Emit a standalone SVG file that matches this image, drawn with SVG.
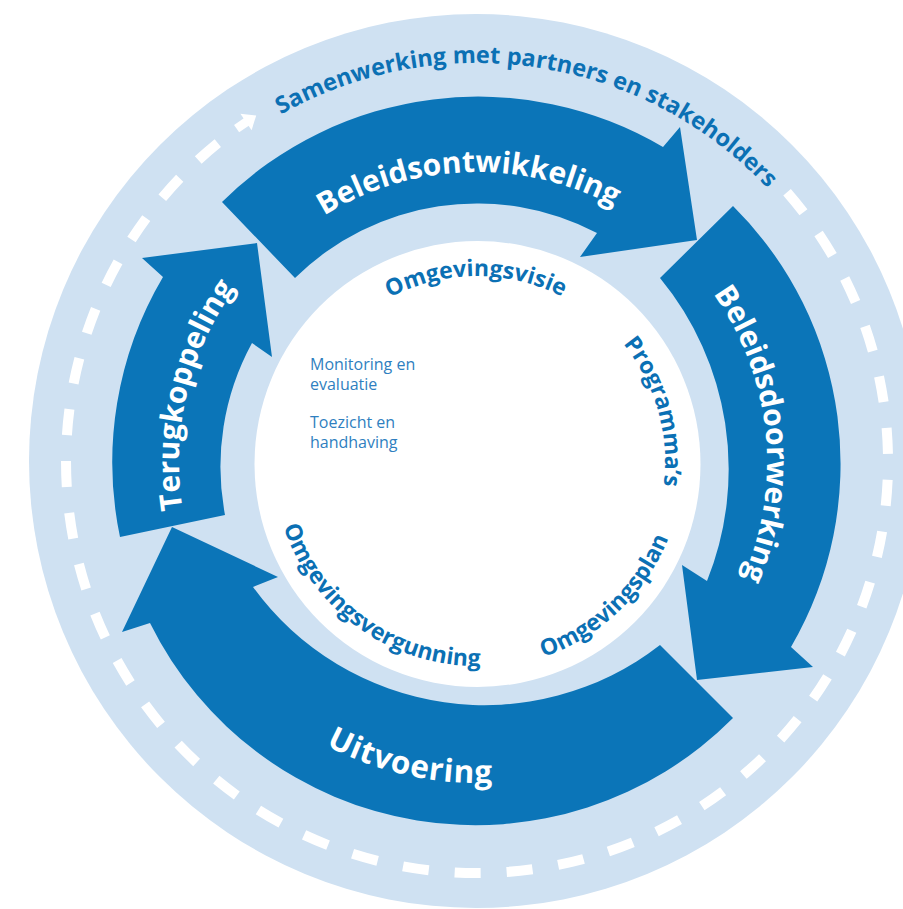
<svg xmlns="http://www.w3.org/2000/svg" width="903" height="909" viewBox="0 0 903 909">
<style>
.ring{fill:#cfe1f2}
.arrow{fill:#0b75b8}
.lbl{font-family:"Open Sans","Liberation Sans",sans-serif;font-weight:700;fill:#ffffff;font-size:30px}
.sub{font-family:"Open Sans","Liberation Sans",sans-serif;font-weight:700;fill:#0b70b4;font-size:23px}
.sam{font-family:"Open Sans","Liberation Sans",sans-serif;font-weight:700;fill:#0b70b4;font-size:23.5px}
.note{font-family:"Open Sans","Liberation Sans",sans-serif;font-weight:400;fill:#2f7fc0;font-size:16px}
.dash{fill:none;stroke:#ffffff;stroke-width:10;stroke-dasharray:26 26}
</style>
<defs>
<path id="pSam" d="M 78,462 A 399 399 0 0 1 876,462"/>
<path id="pTop" d="M 187,462 A 290 290 0 0 1 767,462"/>
<path id="pRight" d="M 477,172 A 290 290 0 0 1 477,752"/>
<path id="pLeft" d="M 477,760 A 298 298 0 0 1 477,164"/>
<path id="pBot" d="M 156,462 A 321 321 0 0 0 798,462"/>
<path id="pVisie" d="M 291,462 A 186 186 0 0 1 663,462"/>
<path id="pProg" d="M 477,274 A 188 188 0 0 1 477,650"/>
<path id="pPlan" d="M 271,462 A 206 206 0 0 0 683,462"/>
<path id="pVerg" d="M 273,462 A 204 204 0 0 0 681,462"/>
</defs>
<g id="background">
<circle class="ring" cx="476" cy="461" r="447"/>
<circle cx="477.5" cy="464" r="223" fill="#ffffff"/>
</g>
<g id="samenwerking">
<path class="dash" d="M 217.8,143.1 A 411 411 0 1 0 785.3,190.2"/>
<line x1="236.6" y1="128.6" x2="247" y2="121.5" stroke="#ffffff" stroke-width="9"/>
<polygon points="256.2,115.4 240.4,113.8 251.6,130.3" fill="#ffffff"/>
<text class="sam"><textPath href="#pSam" startOffset="54.8%" text-anchor="middle">Samenwerking met partners en stakeholders</textPath></text>
</g>
<g id="connectors">
<path id="arrow-beleidsontwikkeling" class="arrow" d="M 222,202 A 364 364 0 0 1 663,147 L 680,127 L 697,240 L 580,257 L 597,233 A 259 259 0 0 0 295,278 Z"/>
<path id="arrow-beleidsdoorwerking" class="arrow" d="M 733,206 A 363 363 0 0 1 791,647 L 813,667 L 697,680 L 682,565 L 707,581 A 300 300 0 0 0 660,278 Z"/>
<path id="arrow-uitvoering" class="arrow" d="M 733,718 A 363 363 0 0 1 150,623 L 122,632 L 172,527 L 278,577 L 253,587 A 286 286 0 0 0 660,645 Z"/>
<path id="arrow-terugkoppeling" class="arrow" d="M 120,537 A 364 364 0 0 1 163,277 L 142,258 L 257,243 L 272,357 L 252,343 A 258 258 0 0 0 225,515 Z"/>
</g>
<g id="node-beleidsontwikkeling">
<text class="lbl"><textPath href="#pTop" startOffset="49%" text-anchor="middle">Beleidsontwikkeling</textPath></text>
</g>
<g id="node-beleidsdoorwerking">
<text class="lbl"><textPath href="#pRight" startOffset="46.7%" text-anchor="middle">Beleidsdoorwerking</textPath></text>
</g>
<g id="node-uitvoering">
<text class="lbl" style="font-size:31.5px;letter-spacing:0.8px"><textPath href="#pBot" startOffset="43%" text-anchor="middle">Uitvoering</textPath></text>
</g>
<g id="node-terugkoppeling">
<text class="lbl"><textPath href="#pLeft" startOffset="57.4%" text-anchor="middle">Terugkoppeling</textPath></text>
</g>
<g id="node-omgevingsvisie">
<text class="sub"><textPath href="#pVisie" startOffset="49.8%" text-anchor="middle">Omgevingsvisie</textPath></text>
</g>
<g id="node-programmas">
<text class="sub"><textPath href="#pProg" startOffset="41.2%" text-anchor="middle">Programma’s</textPath></text>
</g>
<g id="node-omgevingsplan">
<text class="sub"><textPath href="#pPlan" startOffset="74.2%" text-anchor="middle">Omgevingsplan</textPath></text>
</g>
<g id="node-omgevingsvergunning">
<text class="sub"><textPath href="#pVerg" startOffset="30.4%" text-anchor="middle">Omgevingsvergunning</textPath></text>
</g>
<g id="node-monitoring">
<text class="note" x="310" y="370">Monitoring en</text>
<text class="note" x="310" y="390">evaluatie</text>
</g>
<g id="node-toezicht">
<text class="note" x="310" y="428">Toezicht en</text>
<text class="note" x="310" y="448">handhaving</text>
</g>
</svg>
